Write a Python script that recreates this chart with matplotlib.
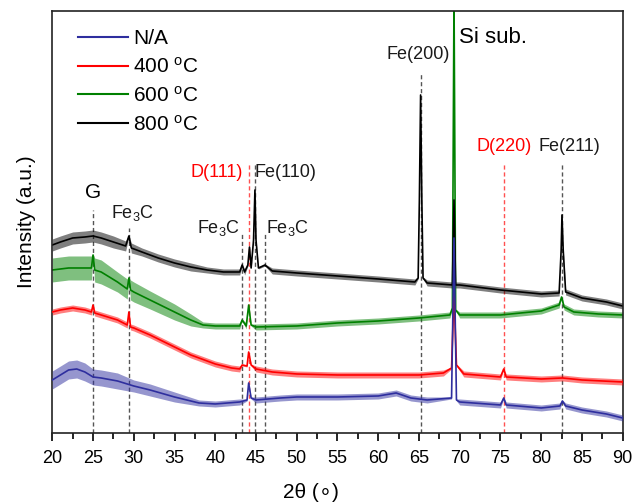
import matplotlib
matplotlib.use("Agg")
import matplotlib.pyplot as plt
import numpy as np

plt.rcParams['font.family'] = ['Liberation Sans', 'DejaVu Sans']
plt.rcParams['mathtext.fontset'] = 'custom'
plt.rcParams['mathtext.rm'] = 'Liberation Sans'
plt.rcParams['mathtext.it'] = 'Liberation Sans:italic'

# ---------------- data (2theta in degrees, intensity in arbitrary units) ----------------
labels = ["N/A", "400 $^\\mathrm{o}$C", "600 $^\\mathrm{o}$C", "800 $^\\mathrm{o}$C"]
colors = ["#2e2e9e", "#ff0000", "#008000", "#000000"]

x_800 = [20, 21, 22.5, 24, 25, 26, 27.5, 29, 29.4, 29.7, 31, 33, 35, 37, 39, 41, 43, 43.3, 43.6,
         44.0, 44.2, 44.4, 44.7, 44.87, 45.0, 45.3, 46.1, 47, 50, 55, 60, 64.5, 64.9, 65.05, 65.2,
         65.35, 65.5, 66, 69.1, 69.3, 69.5, 70, 75, 80, 82.2, 82.45, 82.55, 82.7, 83, 85, 88, 90]
y_800 = [188, 191, 195, 196, 197, 195, 191, 187, 197, 185, 181, 175, 170, 166, 163, 161, 161, 168, 161,
         168, 186, 165, 193, 243, 193, 165, 168, 162, 160, 157, 154, 151, 155, 233, 338,
         233, 155, 150, 148, 233, 148, 148, 143, 139, 140, 183, 218, 183, 141, 135, 131, 127]
w_800 = [6, 6, 6, 6, 6, 6, 6, 5, 1, 5, 4, 4, 4, 4, 3, 3, 3, 1, 3,
         1, 1, 1, 1, 1, 1, 1, 1, 3, 3, 3, 3, 3, 1, 1, 1,
         1, 1, 3, 3, 1, 3, 3, 3, 3, 3, 1, 1, 1, 3, 3, 3, 3]

x_600 = [20, 22, 24, 24.8, 25.0, 25.2, 26, 28, 29.2, 29.4, 29.6, 30, 32, 35, 37, 38.5, 40, 43, 43.3,
         43.8, 44.1, 44.4, 45, 50, 55, 60, 65, 68.8, 69.1, 69.3, 69.5, 70, 75, 80, 82.2, 82.5, 82.8,
         84, 87, 90]
y_600 = [163, 165, 165, 165, 178, 163, 161, 151, 144, 155, 143, 141, 133, 121, 113, 108, 107, 107, 113,
         107, 128, 108, 106, 107, 110, 112, 115, 118, 125, 440, 123, 118, 118, 122, 128, 136, 126,
         121, 119, 118]
w_600 = [12, 12, 12, 12, 1, 12, 12, 10, 10, 1, 10, 10, 9, 8, 6, 3, 3, 3, 1,
         3, 1, 1, 3, 3, 3, 3, 3, 3, 1, 1, 1, 3, 3, 3, 3, 1, 3,
         3, 3, 3]

x_400 = [20, 21, 22.5, 24, 24.8, 25.0, 25.2, 26, 28, 29.2, 29.4, 29.6, 30, 32, 35, 37, 40, 42, 43,
         43.3, 43.9, 44.1, 44.4, 45, 47, 50, 55, 60, 65, 68, 69.0, 69.3, 69.6, 70.5, 75, 75.4, 75.7,
         80, 82.6, 85, 90]
y_400 = [121, 123, 125, 123, 121, 128, 120, 118, 113, 108, 121, 106, 105, 98, 86, 78, 69, 65, 64,
         68, 67, 81, 68, 64, 61, 59, 58, 58, 58, 60, 65, 140, 68, 59, 56, 64, 56,
         54, 55, 53, 51]
w_400 = [3, 3, 3, 3, 3, 1, 3, 3, 3, 3, 1, 3, 3, 3, 3, 3, 3, 3, 3,
         1, 1, 1, 1, 3, 3, 3, 3, 3, 3, 3, 1, 1, 1, 3, 3, 1, 3,
         3, 3, 3, 3]

x_na = [20, 21, 22, 23, 24, 25, 26, 28, 30, 32, 35, 38, 40, 43, 43.9, 44.1, 44.4, 45, 48, 50, 55,
        60, 62.2, 64, 66, 69.0, 69.3, 69.6, 70, 75, 75.4, 75.7, 80, 82.3, 82.6, 83, 85, 88, 90]
y_na = [53, 58, 63, 64, 61, 56, 55, 52, 47, 43, 36, 30, 29, 31, 33, 50, 35, 33, 35, 36, 36,
        37, 40, 35, 33, 35, 195, 33, 31, 28, 35, 28, 25, 27, 32, 27, 23, 19, 15]
w_na = [9, 9, 9, 9, 9, 8, 8, 8, 6, 6, 5, 3, 3, 3, 1, 1, 1, 3, 3, 3, 3,
        3, 3, 3, 3, 1, 1, 1, 3, 3, 1, 3, 3, 3, 1, 3, 3, 3, 3]

# reference lines
ref_pos = [25.0, 29.4, 43.3, 44.2, 44.85, 46.1, 65.2, 75.4, 82.6]
ref_top = [223, 205, 200, 270, 270, 200, 359, 270, 270]
ref_red = [False, False, False, True, False, False, False, True, False]

peak_texts = ["G", "Fe$_3$C", "Fe$_3$C", "D(111)", "Fe(110)", "Fe$_3$C", "Fe(200)", "D(220)", "Fe(211)", "Si sub."]
peak_tx = [25.0, 29.9, 40.35, 40.2, 48.6, 48.9, 64.9, 75.4, 83.4, 69.9]
peak_ty = [240, 220, 205, 260, 260, 205, 378, 286, 286, 395]
peak_red = [False, False, False, True, False, False, False, True, False, False]

# ---------------- figure ----------------
fig = plt.figure(figsize=(6.33, 5.04), dpi=100)
ax = fig.add_axes([0.0826, 0.1409, 0.9011, 0.8373])

series = [(x_600, y_600, w_600, colors[2], 1),
          (x_800, y_800, w_800, colors[3], 2),
          (x_400, y_400, w_400, colors[1], 3),
          (x_na, y_na, w_na, colors[0], 4)]
for xs, ys, ws, c, z in series:
    xs = np.asarray(xs, float); ys = np.asarray(ys, float); ws = np.asarray(ws, float)
    ax.fill_between(xs, ys - ws, ys + ws, color=c, alpha=0.5, linewidth=0, zorder=z)
    ax.plot(xs, ys, color=c, lw=1.2, zorder=z)

for p, t, r in zip(ref_pos, ref_top, ref_red):
    ax.plot([p, p], [0, t], color=("#ff5050" if r else "#555555"), lw=1.0,
            linestyle=(0, (3, 2)), zorder=0.5)

for txt, tx, ty, r in zip(peak_texts, peak_tx, peak_ty, peak_red):
    if txt == "Si sub.":
        ax.text(tx, ty, txt, ha='left', va='center', fontsize=16, color='black')
    elif txt == "G":
        ax.text(tx, ty, txt, ha='center', va='center', fontsize=15, color='black')
    else:
        ax.text(tx, ty, txt, ha='center', va='center', fontsize=13,
                color=('#ff0000' if r else '#1a1a1a'))

ax.set_xlim(20, 90)
ax.set_ylim(0, 422)
ax.set_xticks(np.arange(20, 91, 5))
ax.set_xticks(np.arange(22.5, 90, 5), minor=True)
ax.set_yticks([])
ax.tick_params(axis='x', which='major', direction='out', length=6, width=1.2, labelsize=13, pad=6)
ax.tick_params(axis='x', which='minor', direction='out', length=4, width=1.2)
for s in ax.spines.values():
    s.set_linewidth(1.2)
    s.set_color('#222222')

fig.text(311 / 633, 1 - 492 / 504, "2θ (∘)", fontsize=15, ha='center', va='center')
ax.set_ylabel("Intensity (a.u.)", fontsize=15, labelpad=12)

handles = [plt.Line2D([], [], color=c, lw=1.5) for c in colors]
ax.legend(handles, labels, loc='upper left', bbox_to_anchor=(0.045, 0.957), frameon=False,
          fontsize=15, handlelength=2.4, handletextpad=0.25, labelspacing=0.42,
          borderpad=0, borderaxespad=0)

fig.savefig("out.png", dpi=100)
